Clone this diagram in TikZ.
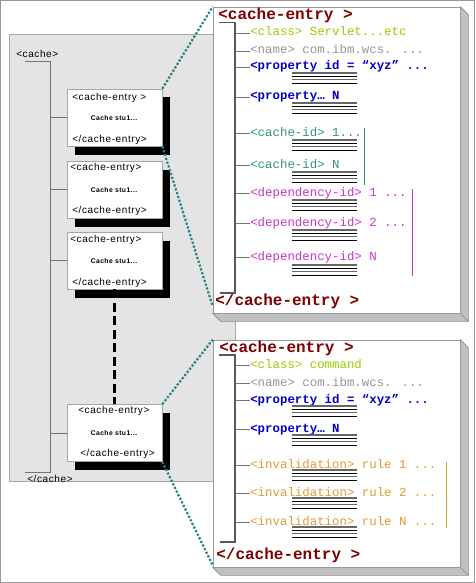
\documentclass[tikz,border=0pt]{standalone}
\usepackage{fontspec}
\usepackage{tikz}
\usetikzlibrary{calc,shadows}
\newfontfamily\xmlfont{Liberation Mono}
\newfontfamily\boxfont[LetterSpace=6]{Liberation Sans}
\definecolor{entryred}{RGB}{128,0,0}
\definecolor{classgreen}{RGB}{153,204,0}
\definecolor{namegray}{RGB}{150,150,150}
\definecolor{propblue}{RGB}{0,0,204}
\definecolor{idgreen}{RGB}{51,153,102}
\definecolor{depmagenta}{RGB}{204,51,204}
\definecolor{invorange}{RGB}{230,153,51}
\definecolor{zoomteal}{RGB}{40,130,130}
\definecolor{bggray}{RGB}{228,228,228}
\definecolor{bevelgray}{RGB}{192,192,192}

% four short rules under a child element
\newcommand{\linestack}[1]{%
  \foreach \k/\col in {0/black!60,1/black,2/black!60,3/black}
    \draw[line width=1.1pt, \col] (292,#1+3.4*\k) -- (357,#1+3.4*\k);
}

\begin{document}
\begin{tikzpicture}[x=1pt, y=-1pt, semithick,
    entrybox/.style={draw=black!35, fill=white, minimum width=95pt, minimum height=57pt, inner sep=0pt,
      general shadow={fill=black, shadow xshift=7.5pt, shadow yshift=-8.5pt}},
    panel/.style={draw=black!40, fill=white, minimum width=247pt, inner sep=0pt},
    bevel/.style={draw=black!45, fill=bevelgray},
    boxlabel/.style={font=\boxfont\fontsize{10}{12}\selectfont, inner sep=0pt, anchor=west},
    stufflabel/.style={font=\boxfont\bfseries\fontsize{6.8}{8}\selectfont, inner sep=0pt},
    tagline/.style={font=\xmlfont\bfseries\fontsize{16}{18}\selectfont, text=entryred, inner sep=0pt, anchor=base west},
    child/.style={font=\xmlfont\fontsize{12.4}{14}\selectfont, inner sep=0pt, anchor=west, text height=6pt, text depth=0pt},
    prop/.style={child, text=propblue, font=\xmlfont\bfseries\fontsize{12.4}{14}\selectfont},
    trunk/.style={draw=black!65, line width=1.1pt},
    branch/.style={draw=black!55, line width=0.9pt},
    zoomline/.style={draw=zoomteal, line width=2.2pt, dash pattern=on 2.2pt off 1.8pt}]
    \useasboundingbox (0,0) rectangle (475,583);
    % Frame
    \draw[black!40, line width=1.2pt] (0.6,0.6) rectangle (474.4,582.4);
    % Cache background
    \draw[fill=bggray, draw=black!35] (9,34) rectangle (235,481);

    % Cache tree
    \node[boxlabel] (cache) at (16,54) {<cache>};
    \node[boxlabel] (endcache) at (27,479) {</cache>};
    \coordinate (ct) at (50,61);
    \coordinate (cb) at (50,472);
    \draw[branch] (25,61) -- (ct) -- (cb) -- (25,472);

    % Entries
    \node[entrybox] (e1) at (114.5,117.5) {};
    \node[entrybox] (e2) at (114.5,189.5) {};
    \node[entrybox] (e3) at (114.5,260.5) {};
    \node[entrybox] (e4) at (114.5,433) {};
    \foreach \e in {e1,e2,e3,e4}
      \draw[branch] (\e.west -| ct) -- (\e.west);
    \draw[black, line width=2.6pt, dash pattern=on 9pt off 4.5pt] (e3.south) -- (e4.north);

    \node[boxlabel] (e1top) at (72,98) {<cache-entry >};
    \node[stufflabel] (e1mid) at (114,118) {Cache stu1...};
    \node[boxlabel] (e1bot) at (72,140) {</cache-entry>};
    \node[boxlabel] (e2top) at (70,168) {<cache-entry>};
    \node[stufflabel] (e2mid) at (114,190) {Cache stu1...};
    \node[boxlabel] (e2bot) at (72,211) {</cache-entry>};
    \node[boxlabel] (e3top) at (70,240) {<cache-entry>};
    \node[stufflabel] (e3mid) at (114,261) {Cache stu1...};
    \node[boxlabel] (e3bot) at (72,283) {</cache-entry>};
    \node[boxlabel] (e4top) at (78,411) {<cache-entry>};
    \node[stufflabel] (e4mid) at (114,433) {Cache stu1...};
    \node[boxlabel] (e4bot) at (80,454) {</cache-entry>};

    % Panels
    \node[panel, minimum height=306pt] (pA) at (336.5,160) {};
    \node[panel, minimum height=227pt] (pB) at (336.5,453.5) {};
    \foreach \p in {pA,pB}{
      \filldraw[bevel] (\p.north east) -- ++(8,8) -- ($(\p.south east)+(8,8)$)
        -- ($(\p.south west)+(8,8)$) -- (\p.south west) -- (\p.south east) -- cycle;
      \draw[black!45] (\p.south east) -- ++(8,8);
    }

    % Upper entry
    \node[tagline] (ceA) at (218,20) {<cache-entry >};
    \node[tagline] (ceAend) at (215,305) {</cache-entry >};
    \coordinate (tA) at (235,22.5);
    \coordinate (tAend) at (235,293);
    \draw[trunk] (219,22.5) -- (tA) -- (tAend) -- (220,293);
    \node[child, text=classgreen] (clsA) at (250,33) {<class> Servlet...etc};
    \node[child, text=namegray] (nameA) at (250,51) {<name> com.ibm.wcs. ...};
    \node[prop] (propA) at (250,67) {<property id = “xyz” ...};
    \node[prop] (propNA) at (250,97) {<property… N};
    \node[child, text=idgreen] (cidA) at (250,133) {<cache-id> 1...};
    \node[child, text=idgreen] (cidNA) at (250,165) {<cache-id> N};
    \node[child, text=depmagenta] (depA) at (250,193) {<dependency-id> 1 ...};
    \node[child, text=depmagenta] (depBA) at (250,223) {<dependency-id> 2 ...};
    \node[child, text=depmagenta] (depNA) at (250,257) {<dependency-id> N};
    \foreach \n in {clsA,nameA,propA,propNA,cidA,cidNA,depA,depBA,depNA}
      \draw[branch] (\n.west -| tA) -- (\n.west);
    \foreach \s in {73,103,140,172,200,230,265}
      \linestack{\s}
    \draw[idgreen, line width=1pt] (364,128) -- (364,185);
    \draw[depmagenta, line width=1pt] (412,189) -- (412,276);

    % Lower entry
    \node[tagline] (ceB) at (219,352) {<cache-entry >};
    \node[tagline] (ceBend) at (216,559) {</cache-entry >};
    \coordinate (tB) at (235,355);
    \coordinate (tBend) at (235,542);
    \draw[trunk] (219,355) -- (tB) -- (tBend) -- (220,542);
    \node[child, text=classgreen] (clsB) at (250,365) {<class> command};
    \node[child, text=namegray] (nameB) at (250,383) {<name> com.ibm.wcs. ...};
    \node[prop] (propB) at (250,400) {<property id = “xyz” ...};
    \node[prop] (propNB) at (250,429) {<property… N};
    \node[child, text=invorange] (invA) at (250,465) {<invalidation> rule 1 ...};
    \node[child, text=invorange] (invB) at (250,493) {<invalidation> rule 2 ...};
    \node[child, text=invorange] (invN) at (250,522) {<invalidation> rule N ...};
    \foreach \n in {clsB,nameB,propB,propNB,invA,invB,invN}
      \draw[branch] (\n.west -| tB) -- (\n.west);
    \foreach \s in {406,435,470,498,527}
      \linestack{\s}
    \draw[invorange, line width=1pt] (446,462) -- (446,528);

    % Zoom lines
    \draw[zoomline] (e1.north east) -- (pA.north west);
    \draw[zoomline] (e1.south east) -- ($(pA.south west)+(0,-7)$);
    \draw[zoomline] (e4.north east) -- (pB.north west);
    \draw[zoomline] (e4.south east) -- ($(pB.south west)+(0,-2)$);
\end{tikzpicture}
\end{document}
